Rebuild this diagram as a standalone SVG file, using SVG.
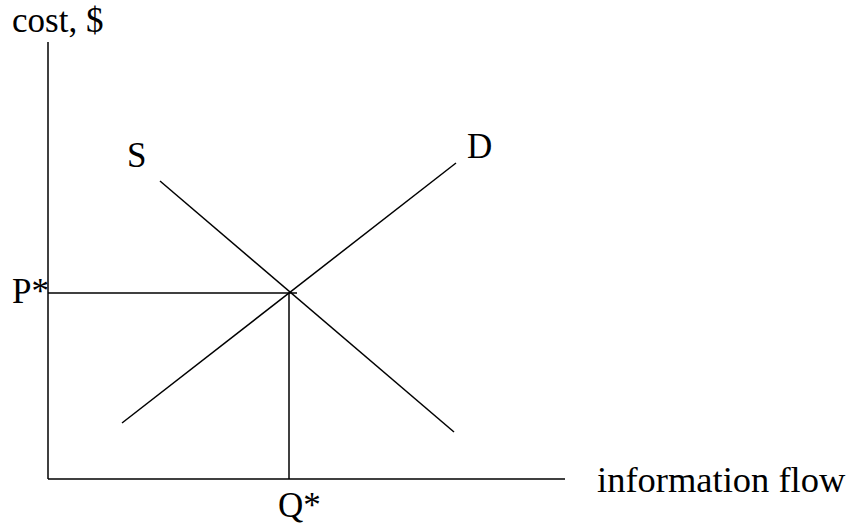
<svg xmlns="http://www.w3.org/2000/svg" width="851" height="527" viewBox="0 0 851 527">
<style>
  .ln { stroke: #000; stroke-width: 1.5; fill: none; }
  .t { font-family: "Liberation Serif", "Times New Roman", serif; font-size: 35px; fill: #000; }
</style>
<rect width="851" height="527" fill="#fff"/>
<g id="axes">
  <line class="ln" x1="48" y1="42" x2="48" y2="479"/>
  <line class="ln" x1="48" y1="479" x2="565" y2="479"/>
</g>
<g id="connectors">
  <line id="S-curve" class="ln" x1="160" y1="181" x2="454" y2="432"/>
  <line id="D-curve" class="ln" x1="122" y1="423" x2="456" y2="163"/>
  <line id="P-line" class="ln" x1="48" y1="293" x2="297" y2="293"/>
  <line id="Q-line" class="ln" x1="289" y1="293" x2="289" y2="479"/>
</g>
<g id="labels">
  <text class="t" x="12" y="32" font-size="36">cost, $</text>
  <text class="t" x="127" y="167">S</text>
  <text class="t" x="467" y="158">D</text>
  <text class="t" x="12" y="303">P*</text>
  <text class="t" x="278" y="517">Q*</text>
  <text class="t" x="597" y="492" style="font-size:36.5px">information flow</text>
</g>
</svg>
